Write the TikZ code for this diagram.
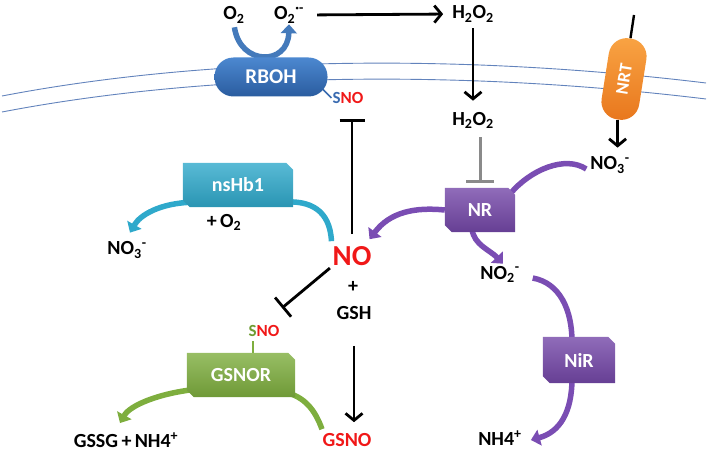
\documentclass[tikz,border=0pt]{standalone}
\usepackage{fontspec}
\setmainfont{Carlito}
\usetikzlibrary{arrows.meta,calc}
\pgfdeclarelayer{back}
\pgfsetlayers{back,main}
\definecolor{noRed}{HTML}{F01818}
\definecolor{snoBlue}{HTML}{3A6BB0}
\definecolor{snoGreen}{HTML}{6E9B32}
\definecolor{memb}{HTML}{6283BC}
\definecolor{rbohA}{HTML}{4C88D0}
\definecolor{rbohB}{HTML}{2A5C9F}
\definecolor{orgA}{HTML}{F9A444}
\definecolor{orgB}{HTML}{E8761C}
\definecolor{purpc}{HTML}{7447A8}
\definecolor{purpArr}{HTML}{7A4DB3}
\definecolor{tealc}{HTML}{2FA9CB}
\definecolor{greenc}{HTML}{7EAE3E}
\definecolor{inhGray}{HTML}{8A8A8A}
\newcommand\snipfill[2]{%
  \path[top color=#2!80!white, bottom color=#2!88!black]
   (#1.north west) -- ($(#1.north east)+(-7,0)$) -- ($(#1.north east)+(0,7)$)
   -- (#1.south east) -- ($(#1.south west)+(7,0)$) -- ($(#1.south west)+(0,-7)$) -- cycle;}
\begin{document}
\begin{tikzpicture}[x=1pt,y=-1pt,
  txt/.style={font=\bfseries\fontsize{20}{23}\selectfont, inner sep=1pt},
  boxlbl/.style={font=\bfseries\fontsize{20}{23}\selectfont, text=white, inner sep=0pt},
  pill/.style={font=\bfseries\fontsize{21}{24}\selectfont, text=white, inner sep=0pt},
  membrane/.style={draw=memb, line width=0.9pt},
  blk/.style={draw=black, line width=2.8pt, -{Straight Barb[length=7pt,width=17pt]}},
  inhblk/.style={draw=black, line width=2.8pt, -{Bar[width=25pt]}},
  inhgray/.style={draw=inhGray, line width=3pt, -{Bar[width=28pt]}},
  band/.style={line width=5.5pt},
  bandarr/.style={line width=5.5pt, -{Triangle[length=9pt,width=16pt]}}]
\useasboundingbox (0,0) rectangle (708,457);

% text nodes
\node[txt] (o2) at (234,15) {O\textsubscript{2}};
\node[txt] (o2m) at (289,15) {O\textsubscript{2}\textsuperscript{·-}};
\node[txt] (h2o2a) at (473,14) {H\textsubscript{2}O\textsubscript{2}};
\node[txt] (h2o2b) at (473,120) {H\textsubscript{2}O\textsubscript{2}};
\node[txt] (no3a) at (610,165) {NO\textsubscript{3}\textsuperscript{-}};
\node[txt, font=\bfseries\fontsize{17}{19}\selectfont] (sno1) at (348,98) {\textcolor{snoBlue}{S}\textcolor{noRed}{NO}};
\node[txt, text=noRed, font=\bfseries\fontsize{29}{32}\selectfont] (no) at (352,256) {NO};
\node[txt] (plus) at (353,287) {+};
\node[txt] (gsh) at (354,313) {GSH};
\node[txt] (plusO2) at (224,222) {+\,O\textsubscript{2}};
\node[txt] (no3b) at (127,250) {NO\textsubscript{3}\textsuperscript{-}};
\node[txt] (no2) at (500,274) {NO\textsubscript{2}\textsuperscript{-}};
\node[txt] (nh4) at (500,438) {NH4\textsuperscript{+}};
\node[txt, font=\bfseries\fontsize{17}{19}\selectfont] (sno2) at (264,331) {\textcolor{snoGreen}{S}\textcolor{noRed}{NO}};
\node[txt] (gssg) at (126,440) {GSSG\,+\,NH4\textsuperscript{+}};
\node[txt, text=noRed] (gsno) at (347,440) {GSNO};

% boxes (labels)
\node[boxlbl, minimum width=70pt, minimum height=44pt] (nr) at (480,210) {NR};
\node[boxlbl, minimum width=110pt, minimum height=44pt] (nshb1) at (238,185) {nsHb1};
\node[boxlbl, minimum width=72pt, minimum height=46pt] (nir) at (579,360) {NiR};
\node[boxlbl, minimum width=108pt, minimum height=44pt] (gsnor) at (241,375) {GSNOR};

% pills
\node[pill, minimum width=113pt, minimum height=39pt, rounded corners=19pt,
      top color=rbohA, bottom color=rbohB] (rboh) at (271,77) {RBOH};
\node[pill, font=\bfseries\fontsize{18}{20}\selectfont, rotate=81, minimum width=82pt, minimum height=38pt, rounded corners=18pt,
      top color=orgA, bottom color=orgB] (nrt) at (624,79) {NRT};

\coordinate (nrttop) at (634,15);
\coordinate (inh2) at (282,308);
\coordinate (stemtop) at (253,341);

\begin{pgfonlayer}{back}
% membrane
\draw[membrane] (2,96) .. controls (200,58) and (450,52) .. (706,83);
\draw[membrane] (2,112) .. controls (200,74) and (450,68) .. (706,99);

% black arrows
\draw[blk, shorten <=12pt, shorten >=8pt] (o2m.east) -- (h2o2a.west);
\draw[blk, shorten <=5pt, shorten >=10pt] (h2o2a.south) -- (h2o2b.north);
\draw[blk, shorten <=25pt, shorten >=10pt] (gsh.south) -- (gsh.south |- gsno.north);
\draw[line width=2.4pt] (nrt.east) -- (nrttop);
\draw[blk, shorten >=8pt] (nrt.west) -- (nrt.west |- no3a.north);

% inhibitions
\draw[inhgray, shorten <=8pt, shorten >=5pt] (nr.north |- h2o2b.south) -- (nr.north);
\draw[inhblk, shorten <=11pt, shorten >=14pt] (no.north) -- (no.north |- sno1.south);
\draw[inhblk, shorten <=2pt] (no.south west) -- (inh2);

% RBOH
\draw[bandarr, draw=rbohA!90!black, shorten <=3pt] (o2.south) .. controls (240,66) and (288,66) .. (o2m.south);
\draw[line width=1.6pt, draw=snoBlue] ($(rboh.east)+(-8,9)$) -- (sno1.west);

% purple
\draw[band, draw=purpArr] ($(no3a.west)+(-3,4)$) .. controls (565,155) and (530,170) .. ($(nr.north east)+(-5,6)$);
\draw[bandarr, draw=purpArr] (nr.west) .. controls (415,207) and (390,212) .. ($(no.north east)+(-3,-6)$);
\draw[bandarr, draw=purpArr] ($(nr.south)+(-8,-3)$) .. controls (474,245) and (490,250) .. ($(no2.north)+(3,-1)$);
\draw[band, draw=purpArr] ($(no2.east)+(12,4)$) .. controls (560,283) and (572,310) .. ($(nir.north)+(-7,5)$);
\draw[bandarr, draw=purpArr] ($(nir.south)+(-7,-5)$) .. controls (572,412) and (560,432) .. ($(nh4.east)+(8,2)$);

% teal
\draw[band, draw=tealc] ($(no.north west)+(0,-4)$) .. controls (330,210) and (310,200) .. ($(nshb1.south east)+(-10,-5)$);
\draw[bandarr, draw=tealc] ($(nshb1.south west)+(10,-5)$) .. controls (160,203) and (140,215) .. ($(no3b.north)+(3,-8)$);

% green
\draw[band, draw=greenc] ($(gsno.north)+(-25,-3)$) .. controls (315,410) and (305,397) .. ($(gsnor.south east)+(-10,-5)$);
\draw[bandarr, draw=greenc] ($(gsnor.south west)+(10,-8)$) .. controls (160,393) and (130,405) .. ($(gssg.north)+(-6,-8)$);
\draw[line width=2pt, draw=greenc] (stemtop) -- (stemtop |- gsnor.north);

% box fills
\snipfill{nr}{purpc}
\snipfill{nir}{purpc}
\snipfill{nshb1}{tealc}
\snipfill{gsnor}{greenc}
\end{pgfonlayer}
\end{tikzpicture}
\end{document}
